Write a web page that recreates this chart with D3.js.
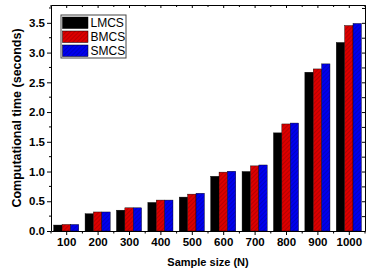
<!DOCTYPE html>
<html>
<head>
<meta charset="utf-8">
<script src="https://cdn.jsdelivr.net/npm/d3@7"></script>
<style>
  html, body { margin: 0; padding: 0; background: #fff; overflow: hidden; }
  svg { display: block; font-family: "Liberation Sans", Arial, sans-serif; }
  .tick text { font-family: "Liberation Sans", Arial, sans-serif; font-weight: bold; font-size: 11.5px; fill: #000; }
  .axis path, .axis line { stroke: #000; }
</style>
</head>
<body>
<svg id="chart" width="373" height="272"></svg>
<script>
// Data.
const sampleSizes = ["100", "200", "300", "400", "500", "600", "700", "800", "900", "1000"];
const seriesNames = ["LMCS", "BMCS", "SMCS"];
const lmcs = [0.10, 0.29, 0.35, 0.48, 0.57, 0.92, 1.00, 1.65, 2.67, 3.17];
const bmcs = [0.11, 0.32, 0.39, 0.52, 0.62, 0.99, 1.095, 1.80, 2.725, 3.455];
const smcs = [0.11, 0.32, 0.39, 0.52, 0.635, 1.005, 1.11, 1.815, 2.81, 3.49];
const yTicks = [0, 0.5, 1.0, 1.5, 2.0, 2.5, 3.0, 3.5];

const values = [lmcs, bmcs, smcs];
const fills = ["#000", "url(#hatchRed)", "url(#hatchBlue)"];

const width = 373, height = 272;
const margin = {top: 5, right: 8, bottom: 41, left: 51};
const innerWidth = width - margin.left - margin.right;
const innerHeight = height - margin.top - margin.bottom;

const svg = d3.select("#chart");

// Hatch patterns for red and blue bars.
const defs = svg.append("defs");
function hatch(id, bg, line) {
  const p = defs.append("pattern")
    .attr("id", id)
    .attr("patternUnits", "userSpaceOnUse")
    .attr("width", 3).attr("height", 3)
    .attr("patternTransform", "rotate(45)");
  p.append("rect").attr("width", 3).attr("height", 3).attr("fill", bg);
  p.append("line").attr("x1", 0).attr("y1", 0).attr("x2", 0).attr("y2", 3)
    .attr("stroke", line).attr("stroke-width", 1);
}
hatch("hatchRed", "#dd0000", "#900000");
hatch("hatchBlue", "#0000ee", "#00009a");

const g = svg.append("g").attr("transform", `translate(${margin.left},${margin.top})`);

// Scales.
const x0 = d3.scaleBand().domain(sampleSizes).range([0, innerWidth]).padding(0);
const x1 = d3.scaleBand().domain(seriesNames)
  .range([x0.bandwidth() * 0.085, x0.bandwidth() * 0.885]).padding(0);
const y = d3.scaleLinear().domain([0, 3.8]).range([innerHeight, 0]);

// Bars.
seriesNames.forEach((name, si) => {
  g.append("g").selectAll("rect")
    .data(values[si])
    .join("rect")
    .attr("x", (d, i) => x0(sampleSizes[i]) + x1(name))
    .attr("y", (d) => y(d))
    .attr("width", x1.bandwidth())
    .attr("height", (d) => innerHeight - y(d))
    .attr("fill", fills[si])
    .attr("stroke", "#000")
    .attr("stroke-width", 0.4);
});

// Axes.
const minorY = d3.range(0, 3.8, 0.25);
const bounds = sampleSizes.map((s) => x0(s)).concat(innerWidth);

// Left axis.
g.append("g").attr("class", "axis")
  .call(d3.axisLeft(y).tickValues(yTicks).tickFormat(d3.format(".1f"))
    .tickSizeInner(4).tickSizeOuter(0).tickPadding(2));
g.append("g").attr("class", "axis").selectAll("line")
  .data(minorY.filter((v) => !yTicks.includes(v)))
  .join("line")
  .attr("x1", -2).attr("x2", 0)
  .attr("y1", (d) => y(d)).attr("y2", (d) => y(d))
  .attr("stroke", "#000");

// Right axis (inward ticks).
g.append("g").attr("class", "axis")
  .attr("transform", `translate(${innerWidth},0)`)
  .call(d3.axisRight(y).tickValues(minorY).tickFormat("")
    .tickSizeInner(-3).tickSizeOuter(0));

// Bottom axis.
g.append("g").attr("class", "axis")
  .attr("transform", `translate(0,${innerHeight})`)
  .call(d3.axisBottom(x0).tickSizeInner(4).tickSizeOuter(0).tickPadding(3));
g.append("g").attr("class", "axis").selectAll("line")
  .data(bounds)
  .join("line")
  .attr("x1", (d) => d).attr("x2", (d) => d)
  .attr("y1", innerHeight).attr("y2", innerHeight + 2.5)
  .attr("stroke", "#000");

// Top axis (inward ticks).
g.append("g").attr("class", "axis")
  .call(d3.axisTop(x0).tickSizeInner(-3).tickSizeOuter(0).tickFormat(""));
g.append("g").attr("class", "axis").selectAll("line")
  .data(bounds)
  .join("line")
  .attr("x1", (d) => d).attr("x2", (d) => d)
  .attr("y1", 0).attr("y2", 2)
  .attr("stroke", "#000");

// Axis labels.
svg.append("text")
  .attr("transform", `translate(20.5,${margin.top + innerHeight / 2}) rotate(-90)`)
  .attr("text-anchor", "middle")
  .attr("font-weight", "bold")
  .attr("font-size", 12.5)
  .text("Computational time (seconds)");
svg.append("text")
  .attr("x", margin.left + innerWidth / 2)
  .attr("y", 266)
  .attr("text-anchor", "middle")
  .attr("font-weight", "bold")
  .attr("font-size", 11)
  .text("Sample size (N)");

// Legend.
const gLegend = svg.append("g").attr("transform", "translate(61,15)");
gLegend.append("rect")
  .attr("width", 65).attr("height", 43)
  .attr("fill", "#fff").attr("stroke", "#444").attr("stroke-width", 1);
seriesNames.forEach((name, i) => {
  gLegend.append("rect")
    .attr("x", 1.5).attr("y", 2 + i * 14)
    .attr("width", 25.5).attr("height", 11.5)
    .attr("fill", fills[i])
    .attr("stroke", "#000").attr("stroke-width", 0.5);
  gLegend.append("text")
    .attr("x", 29.5).attr("y", 12.3 + i * 14)
    .attr("font-size", 12)
    .text(name);
});
</script>
</body>
</html>
